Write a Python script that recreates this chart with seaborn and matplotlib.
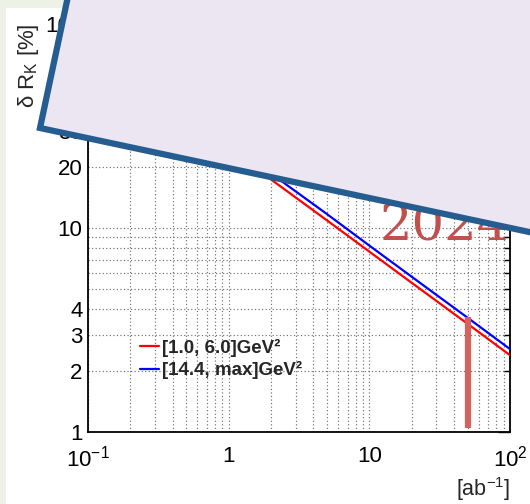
import math
import numpy as np
import pandas as pd
import matplotlib
matplotlib.use("Agg")
import matplotlib.pyplot as plt
from matplotlib.patches import Polygon, Rectangle
from matplotlib.ticker import (FixedLocator, FixedFormatter, FuncFormatter,
                               NullFormatter, LogLocator)
import seaborn as sns

# Projected relative uncertainty on R_K versus integrated luminosity
lumi = [0.1, 0.2, 0.5, 1, 2, 5, 10, 20, 50, 100]
err_low_q2 = [79.0, 55.6, 35.0, 24.6, 17.3, 10.9, 7.66, 5.39, 3.39, 2.38]
err_high_q2 = [84.5, 59.5, 37.5, 26.3, 18.5, 11.7, 8.20, 5.77, 3.63, 2.55]
bin_labels = ["[1.0, 6.0]GeV²", "[14.4, max]GeV²"]
line_colors = ["#ff0000", "#0000ff"]

x_tick_values = [0.1, 1, 10, 100]
x_tick_labels = [r"$10^{-1}$", "1", "10", r"$10^{2}$"]
y_major_values = [1, 10, 100]
y_major_labels = ["1", "10", "100"]
y_minor_labels = {2: "2", 3: "3", 4: "4", 20: "20", 30: "30", 40: "40"}

target_lumi = 50
target_err = 3.65
year_text = "2024"

W, H = 530, 504

sns.set_style("white")
plt.rcParams["font.family"] = ["Liberation Sans", "DejaVu Sans"]
plt.rcParams["mathtext.fontset"] = "custom"
plt.rcParams["mathtext.rm"] = "Liberation Sans"
plt.rcParams["mathtext.it"] = "Liberation Sans:italic"
plt.rcParams["mathtext.bf"] = "Liberation Sans:bold"

fig = plt.figure(figsize=(W / 100, H / 100), dpi=100, facecolor="#eef1e5")
# white canvas behind the frame
fig.add_artist(Rectangle((6 / W, 0), 1, 1 - 8 / H, transform=fig.transFigure,
                         facecolor="white", edgecolor="none", zorder=-1))

ax = fig.add_axes([88 / W, 1 - 432 / H, 422 / W, 408 / H])
ax.set_facecolor("white")

df = pd.DataFrame({
    "lumi": lumi * 2,
    "err": err_low_q2 + err_high_q2,
    "bin": [bin_labels[0]] * len(lumi) + [bin_labels[1]] * len(lumi),
})
ax.set_xscale("log")
ax.set_yscale("log")
sns.lineplot(data=df, x="lumi", y="err", hue="bin", palette=line_colors,
             linewidth=1.6, ax=ax, legend=True, zorder=3)
ax.set_xlim(0.1, 100)
ax.set_ylim(1, 100)

# target luminosity marker
ax.vlines(target_lumi, 1.045, target_err, color="#d3635e", linewidth=4.5,
          zorder=4)

# axes, ticks and grid
ax.xaxis.set_major_locator(FixedLocator(x_tick_values))
ax.xaxis.set_major_formatter(FixedFormatter(x_tick_labels))
ax.xaxis.set_minor_locator(LogLocator(base=10, subs=np.arange(2, 10), numticks=20))
ax.xaxis.set_minor_formatter(NullFormatter())
ax.yaxis.set_major_locator(FixedLocator(y_major_values))
ax.yaxis.set_major_formatter(FixedFormatter(y_major_labels))
ax.yaxis.set_minor_locator(LogLocator(base=10, subs=np.arange(2, 10), numticks=20))
ax.yaxis.set_minor_formatter(
    FuncFormatter(lambda v, p: y_minor_labels.get(int(round(v)), "")))

ax.tick_params(which="both", direction="in", top=True, right=True,
               colors="black", labelsize=16)
ax.tick_params(which="major", length=8.6, width=1.0)
ax.tick_params(which="minor", length=4.3, width=1.0)
ax.tick_params(axis="x", which="both", pad=10)
ax.tick_params(axis="y", which="both", pad=4)
ax.grid(True, which="both", color="#707070", linestyle=(0, (1, 2)),
        linewidth=0.85)
for s in ax.spines.values():
    s.set_visible(True)
    s.set_color("black")
    s.set_linewidth(1.3)

ax.set_ylabel(r"δ R$_{\mathrm{K}}$ [%]", fontsize=16, loc="top")
ax.yaxis.set_label_coords((41 - 88) / 422, (432 - 23) / 408)
ax.set_xlabel(r"[ab$^{-1}$]", fontsize=15.5, loc="right")
ax.xaxis.set_label_coords(1.0, (432 - 475) / 408)

old = ax.get_legend()
handles = old.legend_handles
labels = [t.get_text() for t in old.get_texts()]
leg = ax.legend(handles, labels, loc="center left",
                bbox_to_anchor=(140 / W, 1 - 359 / H),
                bbox_transform=fig.transFigure, frameon=False,
                prop={"weight": "bold", "size": 13.5},
                handlelength=1.0, handletextpad=0.2, labelspacing=0.25,
                borderpad=0, borderaxespad=0)
for h in leg.legend_handles:
    h.set_linewidth(1.6)

# year stamp, partly hidden under the title card
fig.text(380 / W, 1 - 239 / H, year_text, fontsize=37, family="DejaVu Serif",
         color="#c0504d", ha="left", va="baseline", zorder=2)

# tilted title card
th = math.radians(12)
p0 = np.array([40.0, 128.0])
d1 = np.array([math.cos(th), math.sin(th)])
d2 = np.array([math.sin(th), -math.cos(th)])
corners = [p0, p0 + 700 * d1, p0 + 700 * d1 + 500 * d2, p0 + 500 * d2]
fig.add_artist(Polygon([(x / W, 1 - y / H) for x, y in corners], closed=True,
                       transform=fig.transFigure, facecolor="#ebe6f1",
                       edgecolor="#255d91", linewidth=4.5, joinstyle="miter",
                       zorder=5))

fig.savefig("out.png", dpi=100)
